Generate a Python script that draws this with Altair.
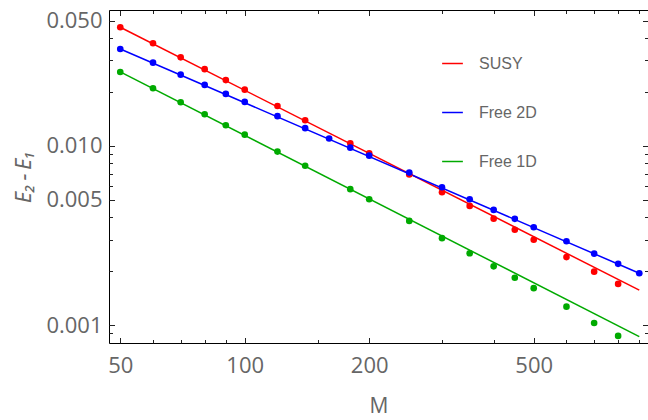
import altair as alt
import pandas as pd

# ---- data ----
M_SUSY = [50, 60, 70, 80, 90, 100, 120, 140, 180, 200, 250, 300, 350, 400, 450, 500, 600, 700, 800]
E_SUSY = [0.0459, 0.0374, 0.0312, 0.0268, 0.0233, 0.0206, 0.0167, 0.0139, 0.01035, 0.00911,
          0.00694, 0.00552, 0.00463, 0.00393, 0.00341, 0.00300, 0.00240, 0.00199, 0.00170]

M_2D = [50, 60, 70, 80, 90, 100, 120, 140, 160, 180, 200, 250, 300, 350, 400, 450, 500, 600, 700, 800, 900]
E_2D = [0.03475, 0.02915, 0.02498, 0.02189, 0.0195, 0.0176, 0.01466, 0.01257, 0.01101, 0.00978,
        0.00883, 0.00710, 0.00588, 0.00504, 0.00440, 0.00392, 0.00352, 0.00294, 0.00251, 0.00220, 0.00195]

M_1D = [50, 60, 70, 80, 90, 100, 120, 140, 180, 200, 250, 300, 350, 400, 450, 500, 600, 700, 800]
E_1D = [0.02586, 0.02098, 0.01753, 0.01502, 0.01305, 0.01156, 0.00930, 0.00776, 0.00574, 0.00504,
        0.00382, 0.00306, 0.00252, 0.00213, 0.00184, 0.00161, 0.00127, 0.00103, 0.000872]

FIT_M = [50, 900]
FIT_SUSY = [0.0459, 0.00157]
FIT_2D = [0.03475, 0.00195]
FIT_1D = [0.02586, 0.000864]

SERIES = ["SUSY", "Free 2D", "Free 1D"]
COLORS = ["#FF0000", "#0000FF", "#00AA00"]

X_MAJOR = [50, 100, 200, 500]
X_MINOR = [60, 70, 80, 90, 150, 300, 400, 600, 700, 800, 900]
Y_MAJOR = [0.05, 0.01, 0.005, 0.001]
Y_MINOR = [0.04, 0.03, 0.02, 0.009, 0.008, 0.007, 0.006, 0.004, 0.003, 0.002, 0.0009]

pts = pd.concat([
    pd.DataFrame({"series": "SUSY", "M": M_SUSY, "E": E_SUSY}),
    pd.DataFrame({"series": "Free 2D", "M": M_2D, "E": E_2D}),
    pd.DataFrame({"series": "Free 1D", "M": M_1D, "E": E_1D}),
], ignore_index=True)

fits = pd.concat([
    pd.DataFrame({"series": "SUSY", "M": FIT_M, "E": FIT_SUSY}),
    pd.DataFrame({"series": "Free 2D", "M": FIT_M, "E": FIT_2D}),
    pd.DataFrame({"series": "Free 1D", "M": FIT_M, "E": FIT_1D}),
], ignore_index=True)

xscale = alt.Scale(type="log", domain=[46.96, 944.8], nice=False)
yscale = alt.Scale(type="log", domain=[0.0007962, 0.0573], nice=False)

LABEL_FONT = "Open Sans"
GRAY = "#666666"

x_main = alt.Axis(orient="bottom", values=X_MAJOR, format="d", ticks=False, grid=False,
                  domain=True, domainColor="#000000", domainWidth=1,
                  labelFont=LABEL_FONT, labelFontSize=22, labelColor=GRAY, labelPadding=12,
                  labelFlush=False, title="M", titleFont=LABEL_FONT, titleFontSize=21,
                  titleFontWeight="normal", titleColor=GRAY, titlePadding=19)
y_main = alt.Axis(orient="left", values=Y_MAJOR, format=".3f", ticks=False, grid=False,
                  domain=True, domainColor="#000000", domainWidth=1,
                  labelFont=LABEL_FONT, labelFontSize=22, labelColor=GRAY, labelPadding=7,
                  labelFlush=False, title="E₂\u2009−\u2009E₁", titleFont="Noto Sans", titleFontSize=22,
                  titleFontStyle="italic", titleFontWeight="normal", titleColor=GRAY, titlePadding=10)

color = alt.Color("series:N",
                  scale=alt.Scale(domain=SERIES, range=COLORS),
                  legend=alt.Legend(title=None, orient="none", legendX=332, legendY=42,
                                    symbolType="stroke", symbolSize=430, symbolStrokeWidth=1.5,
                                    labelFont="Liberation Sans", labelFontSize=16, labelColor=GRAY,
                                    labelOffset=15, rowPadding=29, padding=0))

lines = alt.Chart(fits).mark_line(strokeWidth=1.5).encode(
    x=alt.X("M:Q", scale=xscale, axis=x_main),
    y=alt.Y("E:Q", scale=yscale, axis=y_main),
    color=color,
    detail="series:N",
)
points = alt.Chart(pts).mark_circle(size=44, opacity=1).encode(
    x=alt.X("M:Q", scale=xscale, axis=None),
    y=alt.Y("E:Q", scale=yscale, axis=None),
    color=alt.Color("series:N", scale=alt.Scale(domain=SERIES, range=COLORS), legend=None),
)


def tick_layer(xo, yo, size, xv, yv, xdomain=False):
    return alt.Chart(pts).mark_point(opacity=0).encode(
        x=alt.X("M:Q", scale=xscale,
                axis=alt.Axis(orient=xo, values=xv, labels=False, grid=False, domain=xdomain,
                              domainColor="#000000", domainWidth=1,
                              ticks=size > 0, tickSize=max(size, 0.1), tickColor="#222222",
                              tickWidth=1, offset=-size, title=None)),
        y=alt.Y("E:Q", scale=yscale,
                axis=alt.Axis(orient=yo, values=yv, labels=False, grid=False, domain=False,
                              ticks=size > 0, tickSize=max(size, 0.1), tickColor="#222222",
                              tickWidth=1, offset=-size, title=None)),
    )


layers = [
    lines, points,
    tick_layer("bottom", "left", 5.5, X_MAJOR, Y_MAJOR),
    tick_layer("bottom", "left", 3.5, X_MINOR, Y_MINOR),
    tick_layer("top", "right", 5.5, X_MAJOR, Y_MAJOR),
    tick_layer("top", "right", 3.5, X_MINOR, Y_MINOR),
    tick_layer("top", "right", 0, [50], [0.01], xdomain=True),
]

chart = alt.layer(*layers).resolve_axis(x="independent", y="independent").properties(
    width=539, height=333,
    autosize=alt.AutoSizeParams(type="none"),
    padding={"left": 109, "top": 10, "right": 0, "bottom": 77},
).configure_view(stroke=None).configure(background="white")

chart.save("out.html", embed_options={"renderer": "svg", "actions": False})
